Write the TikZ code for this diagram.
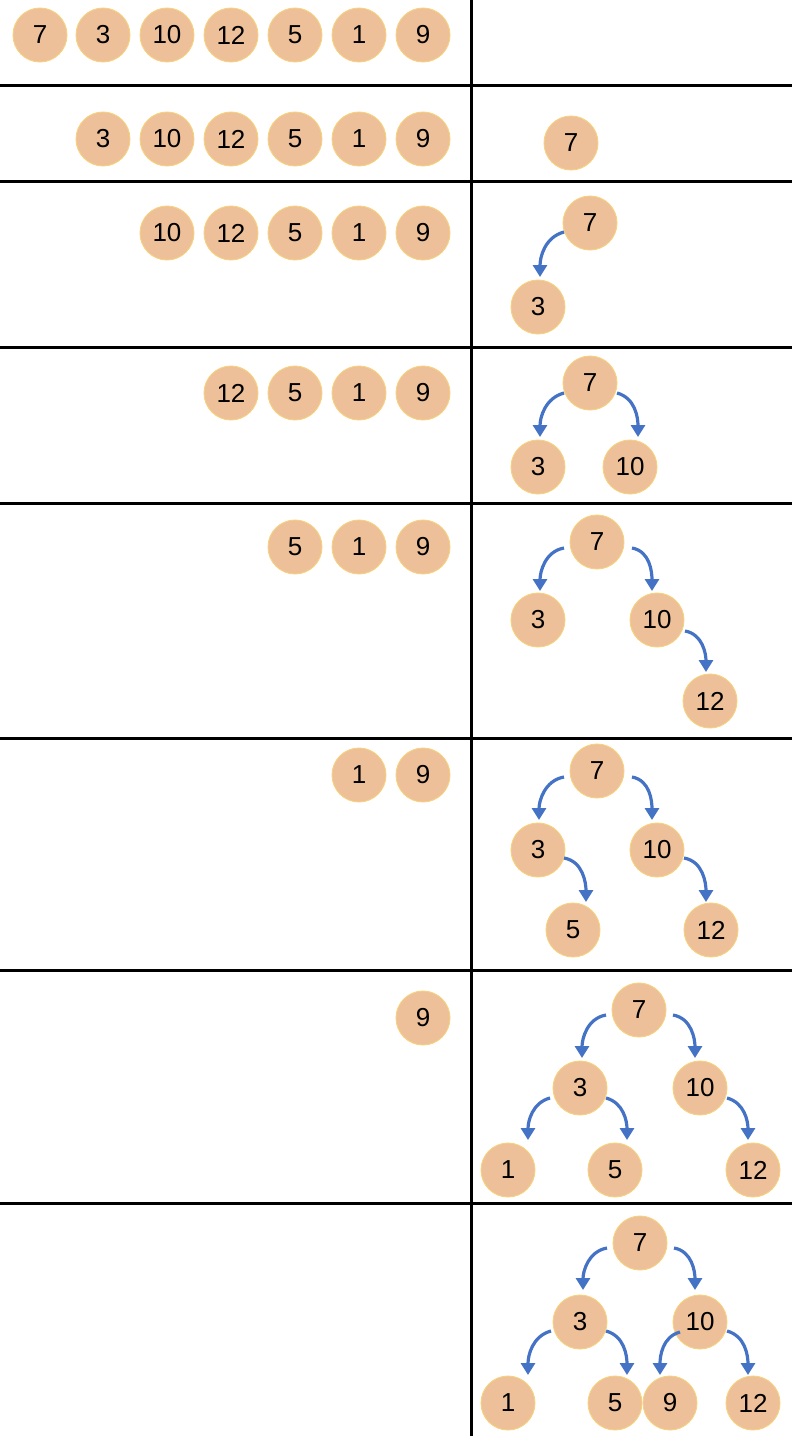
\documentclass[tikz,border=0pt]{standalone}
\usepackage{fontspec}
\setmainfont{Liberation Sans}
\usetikzlibrary{arrows.meta}
\definecolor{nodefill}{HTML}{EDC09A}
\definecolor{nodeborder}{HTML}{F7D27C}
\definecolor{linkblue}{HTML}{4472C4}
\tikzset{
  num/.style={circle, fill=nodefill, draw=nodeborder, line width=0.9pt, minimum size=54pt, inner sep=0pt, font=\fontsize{26}{26}\selectfont},
  link/.style={draw=linkblue, line width=3.2pt, -{Triangle[width=14pt,length=12pt]}},
  rule/.style={line width=3pt, line cap=rect}
}
\begin{document}
\begin{tikzpicture}[x=1pt,y=1pt]
\useasboundingbox (0,0) rectangle (792,-1436);
% grid
\draw[rule] (471,0) -- (471,-1436);
\foreach \yy in {85,181,347,503,738,970,1203} \draw[rule] (0,-\yy) -- (792,-\yy);
% row 1
\node[num] (a1) at (40,-35) {7};
\node[num] (a2) at (103,-35) {3};
\node[num] (a3) at (167,-35) {10};
\node[num] (a4) at (231,-35) {12};
\node[num] (a5) at (295,-35) {5};
\node[num] (a6) at (359,-35) {1};
\node[num] (a7) at (423,-35) {9};
% row 2
\node[num] (b2) at (103,-139) {3};
\node[num] (b3) at (167,-139) {10};
\node[num] (b4) at (231,-139) {12};
\node[num] (b5) at (295,-139) {5};
\node[num] (b6) at (359,-139) {1};
\node[num] (b7) at (423,-139) {9};
\node[num] (bt7) at (571,-143) {7};
% row 3
\node[num] (c3) at (167,-233) {10};
\node[num] (c4) at (231,-233) {12};
\node[num] (c5) at (295,-233) {5};
\node[num] (c6) at (359,-233) {1};
\node[num] (c7) at (423,-233) {9};
\node[num] (ct7) at (590,-223) {7};
\node[num] (ct3) at (538,-307) {3};
\draw[link] ([shift={(-26pt,-9pt)}]ct7.center) to[out=195,in=90] ([shift={(2pt,30pt)}]ct3.center);
% row 4
\node[num] (d4) at (231,-393) {12};
\node[num] (d5) at (295,-393) {5};
\node[num] (d6) at (359,-393) {1};
\node[num] (d7) at (423,-393) {9};
\node[num] (dt7) at (590,-383) {7};
\node[num] (dt3) at (538,-467) {3};
\node[num] (dt10) at (630,-467) {10};
\draw[link] ([shift={(-26pt,-10pt)}]dt7.center) to[out=195,in=90] ([shift={(2pt,30pt)}]dt3.center);
\draw[link] ([shift={(27pt,-10pt)}]dt7.center) to[out=-15,in=90] ([shift={(8pt,30pt)}]dt10.center);
% row 5
\node[num] (e5) at (295,-547) {5};
\node[num] (e6) at (359,-547) {1};
\node[num] (e7) at (423,-547) {9};
\node[num] (et7) at (597,-542) {7};
\node[num] (et3) at (538,-620) {3};
\node[num] (et10) at (657,-620) {10};
\node[num] (et12) at (710,-701) {12};
\draw[link] ([shift={(-33pt,-6pt)}]et7.center) to[out=190,in=90] ([shift={(2pt,29pt)}]et3.center);
\draw[link] ([shift={(35pt,-6pt)}]et7.center) to[out=-10,in=90] ([shift={(-5pt,29pt)}]et10.center);
\draw[link] ([shift={(28pt,-11pt)}]et10.center) to[out=-10,in=90] ([shift={(-4pt,29pt)}]et12.center);
% row 6
\node[num] (f6) at (359,-775) {1};
\node[num] (f7) at (423,-775) {9};
\node[num] (ft7) at (597,-771) {7};
\node[num] (ft3) at (538,-850) {3};
\node[num] (ft10) at (657,-850) {10};
\node[num] (ft5) at (573,-930) {5};
\node[num] (ft12) at (711,-930) {12};
\draw[link] ([shift={(-33pt,-6pt)}]ft7.center) to[out=190,in=90] ([shift={(1pt,30pt)}]ft3.center);
\draw[link] ([shift={(35pt,-6pt)}]ft7.center) to[out=-10,in=90] ([shift={(-5pt,30pt)}]ft10.center);
\draw[link] ([shift={(26pt,-8pt)}]ft3.center) to[out=-10,in=90] ([shift={(13pt,28pt)}]ft5.center);
\draw[link] ([shift={(27pt,-8pt)}]ft10.center) to[out=-10,in=90] ([shift={(-5pt,28pt)}]ft12.center);
% row 7
\node[num] (g7) at (423,-1018) {9};
\node[num] (gt7) at (639,-1010) {7};
\node[num] (gt3) at (580,-1088) {3};
\node[num] (gt10) at (700,-1088) {10};
\node[num] (gt1) at (508,-1170) {1};
\node[num] (gt5) at (615,-1170) {5};
\node[num] (gt12) at (753,-1170) {12};
\draw[link] ([shift={(-33pt,-5pt)}]gt7.center) to[out=190,in=90] ([shift={(2pt,30pt)}]gt3.center);
\draw[link] ([shift={(34pt,-5pt)}]gt7.center) to[out=-10,in=90] ([shift={(-5pt,30pt)}]gt10.center);
\draw[link] ([shift={(-30pt,-10pt)}]gt3.center) to[out=195,in=90] ([shift={(20pt,30pt)}]gt1.center);
\draw[link] ([shift={(26pt,-10pt)}]gt3.center) to[out=-15,in=90] ([shift={(12pt,30pt)}]gt5.center);
\draw[link] ([shift={(27pt,-10pt)}]gt10.center) to[out=-15,in=90] ([shift={(-5pt,30pt)}]gt12.center);
% row 8
\node[num] (ht7) at (640,-1243) {7};
\node[num] (ht3) at (580,-1322) {3};
\node[num] (ht10) at (700,-1322) {10};
\node[num] (ht1) at (508,-1403) {1};
\node[num] (ht5) at (615,-1403) {5};
\node[num] (ht9) at (670,-1403) {9};
\node[num] (ht12) at (753,-1403) {12};
\draw[link] ([shift={(-33pt,-5pt)}]ht7.center) to[out=190,in=90] ([shift={(3pt,32pt)}]ht3.center);
\draw[link] ([shift={(34pt,-5pt)}]ht7.center) to[out=-10,in=90] ([shift={(-5pt,32pt)}]ht10.center);
\draw[link] ([shift={(-29pt,-9pt)}]ht3.center) to[out=195,in=90] ([shift={(20pt,28pt)}]ht1.center);
\draw[link] ([shift={(26pt,-9pt)}]ht3.center) to[out=-15,in=90] ([shift={(12pt,28pt)}]ht5.center);
\draw[link] ([shift={(-20pt,-10pt)}]ht10.center) to[out=195,in=90] ([shift={(-10pt,28pt)}]ht9.center);
\draw[link] ([shift={(27pt,-9pt)}]ht10.center) to[out=-15,in=90] ([shift={(-5pt,28pt)}]ht12.center);
\end{tikzpicture}
\end{document}
